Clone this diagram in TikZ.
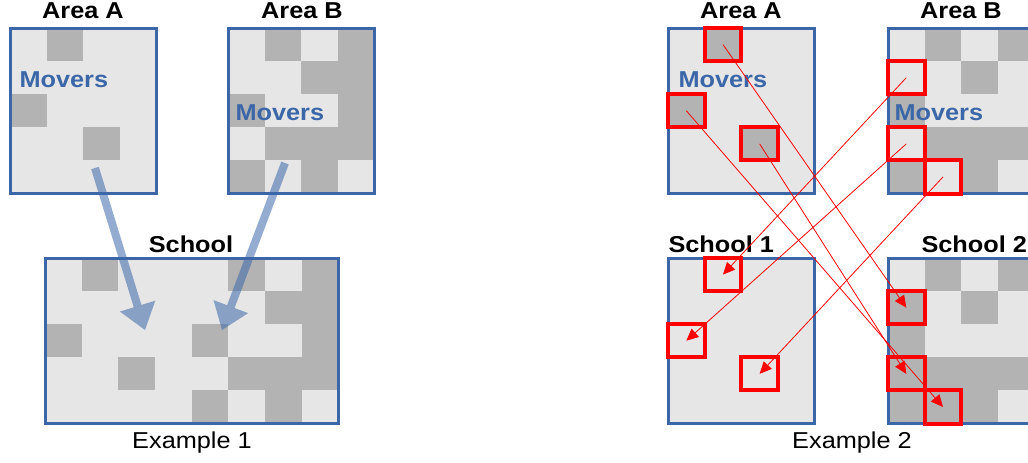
\documentclass[tikz,border=0pt]{standalone}
\usepackage{fontspec}
\setmainfont{Liberation Sans}[FakeStretch=1.1]
\usetikzlibrary{arrows.meta}
\definecolor{frameBlue}{HTML}{3B67A8}
\definecolor{cellLight}{HTML}{E6E6E6}
\definecolor{cellDark}{HTML}{B3B3B3}
\definecolor{moveRed}{HTML}{FF0000}
\def\cellW{36.65}
\def\cellH{33.1}
\newcommand{\DrawPlot}[5]{
    % #1: name, #2: left x, #3: top y, #4: columns, #5: dark cells col/row
    \fill[cellLight] (#2,#3) rectangle ++(#4*\cellW, 5*\cellH);
    \foreach \cx/\cy in {#5} {
        \fill[cellDark] ({#2+\cx*\cellW}, {#3+\cy*\cellH}) rectangle ++(\cellW, \cellH);
    }
    \foreach \cx in {0,...,3} {
        \foreach \cy in {0,...,4} {
            \coordinate (#1-\cx-\cy) at ({#2+(\cx+0.5)*\cellW}, {#3+(\cy+0.5)*\cellH});
        }
    }
    \draw[frameBlue, line width=3pt] (#2,#3) rectangle ++(#4*\cellW, 5*\cellH);
}
\newcommand{\MarkCell}[1]{
    % #1: cell coordinate
    \draw[moveRed, line width=4pt] (#1) ++(-0.5*\cellW, -0.5*\cellH) rectangle ++(\cellW, \cellH);
}

\begin{document}
\begin{tikzpicture}[x=1pt, y=-1pt,
    titleText/.style={anchor=base, font=\fontsize{23}{27}\selectfont\bfseries},
    captionText/.style={anchor=base, font=\fontsize{23}{27}\selectfont},
    moversText/.style={anchor=base west, text=frameBlue, font=\fontsize{23}{27}\selectfont\bfseries},
    bigArrow/.style={-{Triangle[width=37pt, length=25pt, line width=0pt]}, line width=8pt, frameBlue, opacity=0.55},
    moveArrow/.style={-{Triangle[width=11pt, length=12pt]}, line width=0.8pt, moveRed}]
    \useasboundingbox (0,0) rectangle (1028,463);

    % Example 1
    \DrawPlot{A1}{10}{28}{4}{1/0, 0/2, 2/3}
    \DrawPlot{B1}{228}{28}{4}{1/0, 3/0, 2/1, 3/1, 0/2, 3/2, 1/3, 2/3, 3/3, 0/4, 2/4}
    \DrawPlot{S0}{45}{258}{8}{1/0, 0/2, 2/3, 5/0, 7/0, 6/1, 7/1, 4/2, 7/2, 5/3, 6/3, 7/3, 4/4, 6/4}
    \node[titleText] (labA1) at (83,18.5) {Area A};
    \node[titleText] (labB1) at (302,18.5) {Area B};
    \node[titleText] (labS0) at (191,252) {School};
    \node[captionText] (labE1) at (192,448) {Example 1};
    \node[moversText] (movA1) at (16,87) {Movers};
    \node[moversText] (movB1) at (232,120) {Movers};
    \coordinate (fromA1) at (95,168);
    \coordinate (toA1) at (145,330);
    \coordinate (fromB1) at (285,163);
    \coordinate (toB1) at (222,330);
    \draw[bigArrow] (fromA1) -- (toA1);
    \draw[bigArrow] (fromB1) -- (toB1);

    % Example 2
    \DrawPlot{A2}{668}{28}{4}{1/0, 0/2, 2/3}
    \DrawPlot{B2}{888}{28}{4}{1/0, 3/0, 2/1, 0/2, 1/3, 2/3, 3/3, 0/4, 2/4}
    \DrawPlot{S1}{668}{258}{4}{}
    \DrawPlot{S2}{888}{258}{4}{1/0, 3/0, 0/1, 2/1, 0/2, 0/3, 1/3, 2/3, 3/3, 0/4, 1/4, 2/4}
    \node[titleText] (labA2) at (741,18.5) {Area A};
    \node[titleText] (labB2) at (961,18.5) {Area B};
    \node[titleText, anchor=base west] (labS1) at (665,252) {School 1};
    \node[titleText, anchor=base west] (labS2) at (918,252) {School 2};
    \node[captionText] (labE2) at (852,448) {Example 2};
    \node[moversText] (movA2) at (675,87) {Movers};
    \node[moversText] (movB2) at (891,120) {Movers};
    \foreach \cell in {A2-1-0, A2-0-2, A2-2-3, B2-0-1, B2-0-3, B2-1-4,
                       S1-1-0, S1-0-2, S1-2-3, S2-0-1, S2-0-3, S2-1-4} {
        \MarkCell{\cell}
    }

    % Moves
    \draw[moveArrow] (A2-1-0) -- (S2-0-1);
    \draw[moveArrow] (A2-0-2) -- (S2-1-4);
    \draw[moveArrow] (A2-2-3) -- (S2-0-3);
    \draw[moveArrow] (B2-0-1) -- (S1-1-0);
    \draw[moveArrow] (B2-0-3) -- (S1-0-2);
    \draw[moveArrow] (B2-1-4) -- (S1-2-3);
\end{tikzpicture}
\end{document}
